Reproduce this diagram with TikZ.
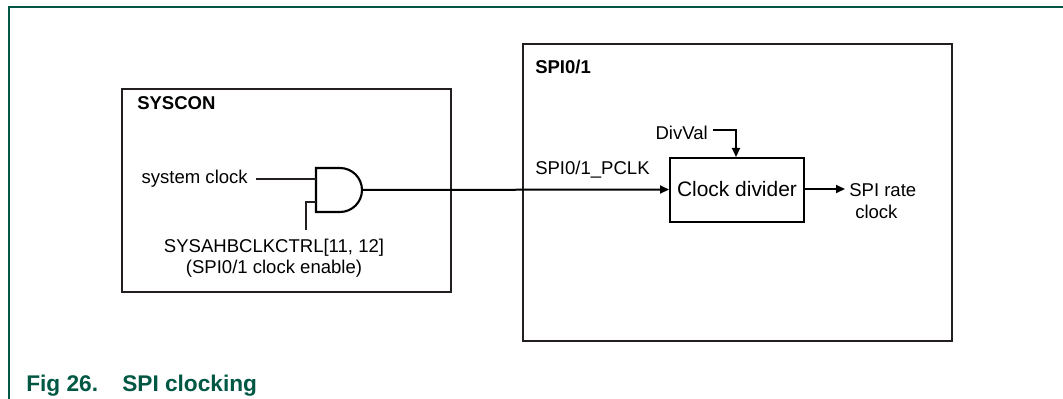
\documentclass[tikz,border=0pt]{standalone}
\usepackage{fontspec}
\setmainfont{Liberation Sans}
\usetikzlibrary{arrows.meta}
\definecolor{nxpgreen}{RGB}{0,88,68}
\definecolor{boxgray}{RGB}{35,31,32}
\begin{document}
\begin{tikzpicture}[x=0.75pt,y=-0.75pt,
  lbl/.style={inner sep=0pt,font=\fontsize{13.9}{16}\selectfont},
  blbl/.style={inner sep=0pt,font=\fontsize{13.9}{16}\selectfont\bfseries},
  caplbl/.style={inner sep=0pt,text=nxpgreen,font=\fontsize{17}{20}\selectfont\bfseries},
  blockbox/.style={draw=boxgray,line width=1.6pt},
  thin/.style={draw=boxgray,line width=0.8pt},
  thick/.style={draw=black,line width=1.5pt},
  arr/.style={-{Triangle[length=6.75pt,width=6pt]}}
]
\useasboundingbox (0,0) rectangle (1063,399);
% outer frame
\draw[nxpgreen,line width=1.2pt] (9,399) -- (9,7) -- (1063,7);
% SYSCON box
\node[blockbox,minimum width=246.75pt,minimum height=152.25pt,anchor=north west,inner sep=0pt] (syscon) at (121,88) {};
\node[blbl,anchor=base west] (sysconlbl) at (137,109.6) {SYSCON};
% SPI box
\node[blockbox,minimum width=321.75pt,minimum height=222.75pt,anchor=north west,inner sep=0pt] (spi) at (522,43) {};
\node[blbl,anchor=base west] (spilbl) at (535,73.6) {SPI0/1};
% AND gate
\draw[line width=1.6pt,line join=miter] (340,168) -- (316,168) -- (316,212) -- (340,212) arc[start angle=-90,end angle=90,radius=16.5pt];
\coordinate (gin1) at (316,179);
\coordinate (gin2) at (316,202);
\coordinate (gout) at (362,190);
% system clock
\node[lbl,anchor=base east] (sysclk) at (248,184) {system clock};
\coordinate (sysclkend) at (256,179);
\draw[thin] (sysclkend) -- (gin1);
% enable
\node[lbl,anchor=base] (en1) at (274,252) {SYSAHBCLKCTRL[11, 12]};
\node[lbl,anchor=base] (en2) at (274,273.5) {(SPI0/1 clock enable)};
\coordinate (enstart) at (306,230);
\draw[thin] (enstart) -- (306,202) -- (gin2);
% clock divider
\node[draw=black,line width=1.6pt,minimum width=100.5pt,minimum height=48pt,anchor=north west,inner sep=0pt] (div) at (669,157) {};
\node[inner sep=0pt,font=\fontsize{15.7}{18}\selectfont,anchor=base] (divtxt) at (737,196) {Clock divider};
% PCLK path
\draw[thick,arr] (gout) -- (div.west |- 0,189.5);
\node[lbl,anchor=base west] (pclk) at (535,175) {SPI0/1\_PCLK};
% DivVal
\node[lbl,anchor=base east] (divval) at (708,139.6) {DivVal};
\coordinate (dvstart) at (713,130);
\draw[thick,arr] (dvstart) -- (736,130) -- (div.north -| 736,0);
% output
\node[lbl,anchor=base west] (rate1) at (849,196.5) {SPI rate};
\node[lbl,anchor=base west] (rate2) at (855,218.5) {clock};
\coordinate (outend) at (845,189);
\draw[thick,arr] (div.east |- 0,189) -- (outend);
% caption
\node[caplbl,anchor=base west] (capnum) at (26,391) {Fig 26.};
\node[caplbl,anchor=base west] (captxt) at (122,391) {SPI clocking};
\end{tikzpicture}
\end{document}
